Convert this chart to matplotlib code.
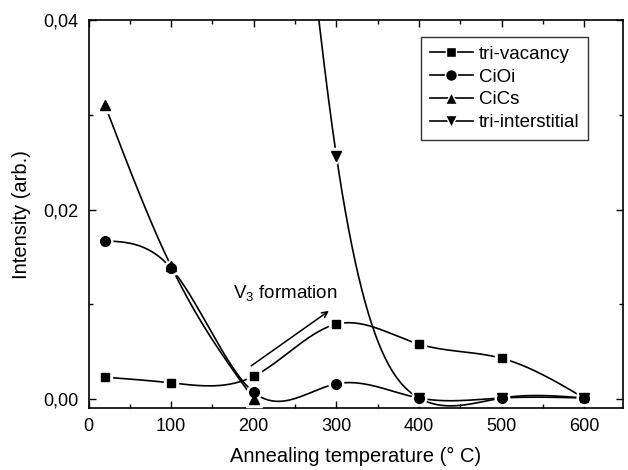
import numpy as np
import matplotlib
matplotlib.use('Agg')
import matplotlib.pyplot as plt
from matplotlib.ticker import MultipleLocator, FuncFormatter

# Values
temp_vac = [20, 100, 200, 300, 400, 500, 600]
tri_vacancy = [0.0023, 0.0017, 0.0024, 0.0079, 0.0058, 0.0043, 0.0001]

temp_cioi = [20, 100, 200, 300, 400, 500, 600]
cioi = [0.0167, 0.0138, 0.0007, 0.0016, 0.0001, 0.0001, 0.0001]

temp_cics = [20, 100, 200]
cics = [0.0310, 0.0140, 0.0000]

temp_int = [200, 300, 400, 500, 600]
tri_interstitial = [0.115, 0.0257, 0.0001, 0.0001, 0.0001]

series = [
    ('tri-vacancy', temp_vac, tri_vacancy, 's', 6),
    ('CiOi', temp_cioi, cioi, 'o', 7),
    ('CiCs', temp_cics, cics, '^', 7.5),
    ('tri-interstitial', temp_int, tri_interstitial, 'v', 7.5),
]


def spline(x, y, n=300):
    # natural cubic spline through the points, like Origin's spline connect
    x = np.asarray(x, float)
    y = np.asarray(y, float)
    k = len(x)
    h = np.diff(x)
    a = np.zeros((k, k))
    b = np.zeros(k)
    a[0, 0] = a[-1, -1] = 1.0
    for i in range(1, k - 1):
        a[i, i - 1] = h[i - 1]
        a[i, i] = 2 * (h[i - 1] + h[i])
        a[i, i + 1] = h[i]
        b[i] = 6 * ((y[i + 1] - y[i]) / h[i] - (y[i] - y[i - 1]) / h[i - 1])
    m = np.linalg.solve(a, b)
    xs = np.linspace(x[0], x[-1], n)
    idx = np.clip(np.searchsorted(x, xs) - 1, 0, k - 2)
    x0, x1 = x[idx], x[idx + 1]
    hh = x1 - x0
    t0 = x1 - xs
    t1 = xs - x0
    ys = (m[idx] * t0 ** 3 / (6 * hh) + m[idx + 1] * t1 ** 3 / (6 * hh)
          + (y[idx] / hh - m[idx] * hh / 6) * t0
          + (y[idx + 1] / hh - m[idx + 1] * hh / 6) * t1)
    return xs, ys


plt.rcParams['font.family'] = ['Liberation Sans', 'DejaVu Sans']
plt.rcParams['mathtext.fontset'] = 'custom'
plt.rcParams['mathtext.rm'] = 'Liberation Sans'
plt.rcParams['mathtext.it'] = 'Liberation Sans'

fig = plt.figure(figsize=(6.28, 4.70), dpi=100)
ax = fig.add_axes([0.141, 0.132, 0.851, 0.825])

for name, xv, yv, mk, ms in series:
    xs, ys = spline(xv, yv)
    ax.plot(xs, ys, color='black', lw=1.2, zorder=2)
for name, xv, yv, mk, ms in series:
    ax.plot(xv, yv, ls='none', marker=mk, ms=ms + 3.5, color='white', zorder=3)
handles = []
for name, xv, yv, mk, ms in series:
    ax.plot(xv, yv, ls='none', marker=mk, ms=ms, color='black', zorder=4)
    h, = ax.plot([], [], color='black', lw=1.2, marker=mk, ms=ms + 1.5,
                 markeredgecolor='white', markeredgewidth=1.0, label=name)
    handles.append(h)

ax.annotate('', xy=(291, 0.0093), xytext=(197, 0.0035),
            arrowprops=dict(arrowstyle='->', color='black', lw=1.1,
                            shrinkA=0, shrinkB=0))
ax.text(175, 0.0107, 'V$_3$ formation', fontsize=13.5)

ax.set_xlim(0, 647)
ax.set_ylim(-0.00095, 0.04)
ax.xaxis.set_major_locator(MultipleLocator(100))
ax.xaxis.set_minor_locator(MultipleLocator(50))
ax.yaxis.set_major_locator(MultipleLocator(0.02))
ax.yaxis.set_minor_locator(MultipleLocator(0.01))
ax.yaxis.set_major_formatter(FuncFormatter(lambda v, p: f'{v:.2f}'.replace('.', ',')))
ax.tick_params(which='both', direction='in', top=True, right=True,
               labelsize=13, width=1)
ax.tick_params(which='major', length=5, pad=7)
ax.tick_params(which='minor', length=3)
for sp in ax.spines.values():
    sp.set_linewidth(1.2)

ax.set_xlabel('Annealing temperature (° C)', fontsize=14.5, labelpad=9)
ax.set_ylabel('Intensity (arb.)', fontsize=14.5, labelpad=9)

leg = ax.legend(handles=handles, loc='upper right', bbox_to_anchor=(0.934, 0.956),
                fontsize=13.5, frameon=True, fancybox=False, handlelength=2.3,
                handletextpad=0.3, labelspacing=0.3, borderpad=0.45,
                borderaxespad=0)
leg.get_frame().set_edgecolor('black')
leg.get_frame().set_linewidth(1.0)

fig.savefig('out.png', dpi=100)
